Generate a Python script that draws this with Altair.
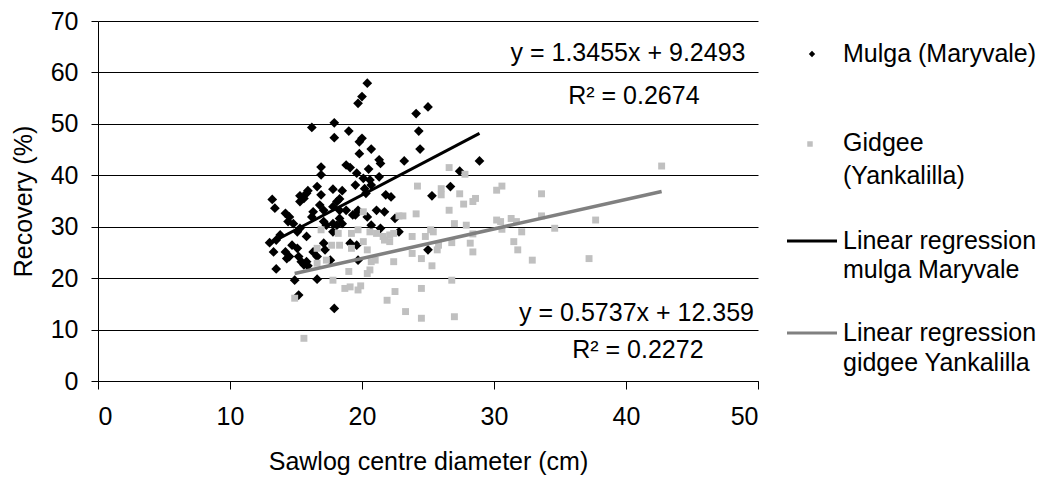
import altair as alt
import pandas as pd

# Mulga (Maryvale): sawlog centre diameter (cm) and recovery (%)
mulga_x = [19.7, 16.2, 17.9, 19.0, 17.9, 19.8, 19.8, 16.9, 18.8, 19.1, 16.9, 16.6, 15.9, 17.8, 18.5,
           19.5, 15.3, 15.6, 13.2, 16.9, 18.3, 20.4, 20.0, 24.1, 25.0, 20.0, 24.3, 20.7, 24.4, 21.3,
           21.4, 23.2, 28.9, 20.5, 19.6, 20.1, 21.3, 27.4, 20.6, 20.7, 20.2, 20.3, 21.8, 22.2, 25.3,
           26.7, 13.4, 15.3, 15.8, 14.2, 14.5, 14.4, 14.8, 16.3, 16.2, 16.8, 17.1, 17.8, 18.8, 17.1,
           17.3, 17.8, 18.3, 19.3, 15.1, 15.3, 15.8, 17.8, 18.5, 13.8, 13.0, 13.5, 13.3, 14.2, 14.5,
           14.7, 15.1, 14.3, 15.2, 15.4, 15.8, 15.9, 16.3, 16.6, 17.1, 17.2, 19.1, 19.6, 13.5, 14.9,
           16.6, 15.2, 17.9, 15.6, 17.6, 21.1, 21.7, 22.5, 20.4, 19.5, 19.7, 18.3, 18.1, 18.1, 20.7,
           21.4, 22.8, 19.7, 25.0]
mulga_y = [54.0, 49.3, 50.2, 48.6, 47.3, 46.5, 44.2, 41.6, 42.0, 41.5, 40.1, 37.8, 37.0, 37.3, 37.0,
           38.1, 36.0, 35.5, 35.3, 36.2, 35.4, 57.9, 55.3, 52.0, 53.3, 47.2, 48.6, 45.1, 45.1, 43.0,
           42.3, 42.8, 42.8, 41.2, 40.4, 39.4, 39.7, 40.8, 39.1, 38.1, 37.4, 36.5, 36.2, 35.8, 36.0,
           37.8, 33.6, 34.9, 36.5, 32.6, 31.9, 31.0, 30.6, 32.9, 31.9, 34.2, 33.2, 33.9, 33.2, 31.0,
           30.3, 30.6, 31.6, 32.3, 29.0, 29.7, 28.1, 29.0, 30.6, 28.4, 26.9, 27.4, 25.1, 25.1, 24.2,
           26.4, 25.8, 23.8, 24.2, 23.2, 23.2, 22.4, 25.1, 24.2, 26.8, 25.5, 26.8, 26.4, 21.8, 19.6,
           19.8, 16.7, 14.1, 22.6, 23.5, 33.2, 32.9, 31.6, 31.9, 32.3, 33.2, 33.2, 34.9, 30.3, 30.3,
           29.7, 29.0, 23.5, 25.5]

# Gidgee (Yankalilla): sawlog centre diameter (cm) and recovery (%)
gidgee_x = [26.6, 27.8, 24.2, 26.0, 27.4, 30.2, 28.6, 16.9, 18.2, 19.2, 17.7, 18.3, 19.2, 16.6, 17.3,
            16.6, 19.0, 17.8, 18.7, 19.1, 14.9, 19.7, 20.1, 22.8, 23.1, 24.1, 26.0, 27.7, 28.4, 26.6,
            19.7, 20.6, 21.1, 21.6, 22.1, 22.4, 21.7, 22.1, 20.1, 20.4, 21.0, 20.7, 22.4, 20.6, 20.4,
            19.9, 22.5, 21.9, 23.3, 24.5, 23.8, 24.5, 25.3, 25.4, 25.2, 24.8, 23.8, 25.8, 25.7, 26.8,
            27.0, 27.9, 28.2, 28.4, 26.8, 24.5, 27.0, 30.2, 42.7, 30.6, 33.6, 30.5, 31.3, 31.7, 30.6,
            32.1, 33.6, 34.6, 37.7, 28.4, 31.5, 31.8, 32.9, 37.2, 15.6]
gidgee_y = [41.5, 40.2, 37.9, 37.4, 36.4, 37.1, 35.5, 29.4, 28.7, 28.7, 26.4, 26.4, 25.8, 25.8, 23.5,
            22.9, 21.3, 19.6, 18.0, 18.3, 16.1, 17.7, 32.9, 32.1, 32.1, 32.5, 36.2, 34.4, 34.9, 33.2,
            29.4, 29.0, 28.7, 28.1, 28.4, 28.7, 27.4, 27.1, 27.1, 25.5, 23.5, 23.2, 23.2, 21.6, 20.9,
            18.5, 17.4, 15.7, 13.5, 18.0, 24.8, 23.8, 22.4, 29.0, 29.4, 28.1, 28.1, 26.4, 25.5, 26.9,
            30.6, 30.3, 26.8, 25.1, 19.6, 12.2, 12.5, 31.3, 41.8, 37.9, 36.4, 31.0, 31.6, 31.0, 29.5,
            29.0, 32.1, 29.7, 31.3, 28.6, 27.1, 25.5, 23.5, 23.8, 8.3]

# Linear fits: slope, intercept, R squared
mulga_fit = (1.3455, 9.2493, 0.2674)
gidgee_fit = (0.5737, 12.359, 0.2272)

FONT = "Liberation Sans"
FS = 25
W, H = 660, 360

mulga = pd.DataFrame({"d": mulga_x, "r": mulga_y})
gidgee = pd.DataFrame({"d": gidgee_x, "r": gidgee_y})


def fit_line(xs, fit):
    lo, hi = min(xs), max(xs)
    return pd.DataFrame({"d": [lo, hi], "r": [fit[0] * lo + fit[1], fit[0] * hi + fit[1]]})


x_scale = alt.Scale(domain=[0, 50], nice=False, zero=False)
y_scale = alt.Scale(domain=[0, 70], nice=False, zero=False)

x_axis = alt.Axis(values=[0, 10, 20, 30, 40, 50], grid=False, domainColor="black", domainWidth=1,
                  tickColor="black", tickSize=8, labelFont=FONT, labelFontSize=FS,
                  labelColor="black", labelPadding=15, title="Sawlog centre diameter (cm)",
                  titleFont=FONT, titleFontSize=FS, titleFontWeight="normal",
                  titleColor="black", titlePadding=20)
y_axis = alt.Axis(values=[0, 10, 20, 30, 40, 50, 60, 70], grid=True, gridColor="black",
                  gridWidth=1, domainColor="black", domainWidth=1, tickColor="black",
                  tickSize=7, labelFont=FONT, labelFontSize=FS, labelColor="black",
                  labelPadding=13, title="Recovery (%)", titleFont=FONT, titleFontSize=FS,
                  titleFontWeight="normal", titleColor="black", titlePadding=14)

X = alt.X("d:Q", scale=x_scale, axis=x_axis)
Y = alt.Y("r:Q", scale=y_scale, axis=y_axis)

mulga_pts = alt.Chart(mulga).mark_point(shape="diamond", filled=True, color="black",
                                        size=95, opacity=1).encode(x=X, y=Y)
gidgee_pts = alt.Chart(gidgee).mark_point(shape="square", filled=True, color="#c0c0c0",
                                          size=48, opacity=1).encode(x=X, y=Y)

mulga_line = alt.Chart(fit_line(mulga_x, mulga_fit)).mark_line(
    color="black", strokeWidth=3).encode(x=X, y=Y)
gidgee_line = alt.Chart(fit_line(gidgee_x, gidgee_fit)).mark_line(
    color="#808080", strokeWidth=3.5).encode(x=X, y=Y)


def eq_text(fit):
    return f"y = {fit[0]}x + {fit[1]}"


def r2_text(fit):
    return f"R\u00b2 = {fit[2]}"


def label(text, xd, yd):
    return alt.Chart().mark_text(font=FONT, fontSize=FS, color="black", align="center",
                                 baseline="middle").encode(
        x=alt.datum(xd, scale=x_scale), y=alt.datum(yd, scale=y_scale), text=alt.value(text))


labels = [
    label(eq_text(mulga_fit), 40.15, 63.8),
    label(r2_text(mulga_fit), 40.6, 55.4),
    label(eq_text(gidgee_fit), 40.8, 13.3),
    label(r2_text(gidgee_fit), 40.9, 6.0),
]


# Legend drawn beside the plot area
def legend_text(text, px, py):
    return alt.Chart().mark_text(font=FONT, fontSize=FS, color="black", align="left",
                                 baseline="middle").encode(
        x=alt.value(px), y=alt.value(py), text=alt.value(text))


legend = [
    alt.Chart().mark_point(shape="diamond", filled=True, color="black", size=40, opacity=1)
    .encode(x=alt.value(714), y=alt.value(33)),
    legend_text("Mulga (Maryvale)", 745, 33),
    alt.Chart().mark_point(shape="square", filled=True, color="#c0c0c0", size=30, opacity=1)
    .encode(x=alt.value(712), y=alt.value(123)),
    legend_text("Gidgee", 745, 122),
    legend_text("(Yankalilla)", 745, 155),
    alt.Chart().mark_rule(color="black", strokeWidth=3)
    .encode(x=alt.value(689), x2=alt.value(739), y=alt.value(220)),
    legend_text("Linear regression", 745, 220),
    legend_text("mulga Maryvale", 745, 249),
    alt.Chart().mark_rule(color="#808080", strokeWidth=3)
    .encode(x=alt.value(689), x2=alt.value(739), y=alt.value(312)),
    legend_text("Linear regression", 745, 312),
    legend_text("gidgee Yankalilla", 745, 342),
]

chart = alt.layer(mulga_pts, gidgee_pts, mulga_line, gidgee_line, *labels, *legend).properties(
    width=W, height=H,
    autosize=alt.AutoSizeParams(type="none"),
    padding={"left": 98, "top": 21, "right": 1045 - 98 - W, "bottom": 480 - 21 - H},
    background="white",
).configure_view(stroke=None)

chart.save("out.html", embed_options={"renderer": "svg", "actions": False})
